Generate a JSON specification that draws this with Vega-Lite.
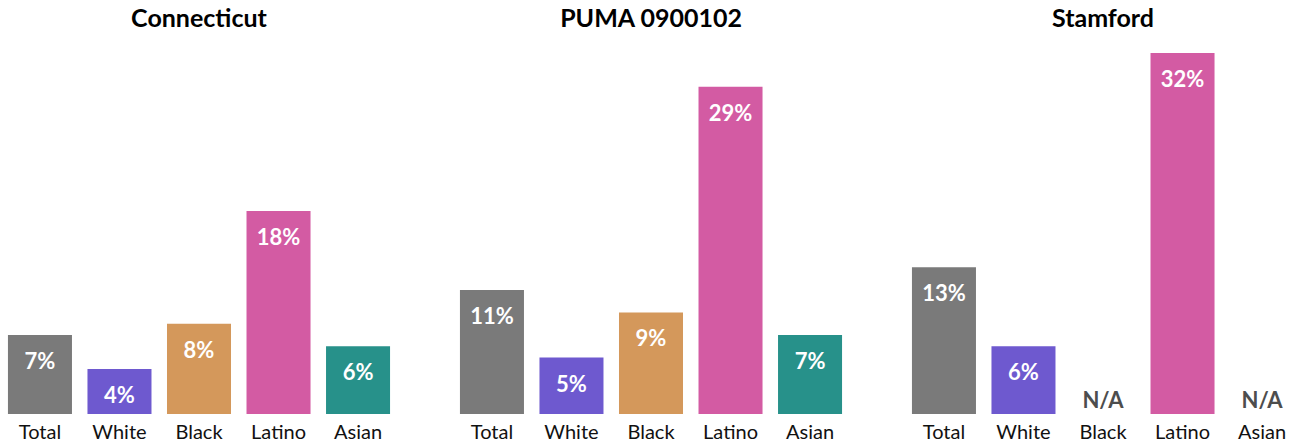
{
  "$schema": "https://vega.github.io/schema/vega-lite/v6.json",
  "padding": {"top": 7, "left": 0, "right": 0, "bottom": 0},
  "background": "white",
  "config": {
    "font": "Lato",
    "view": {"stroke": null},
    "facet": {"spacing": 54}
  },
  "data": {
    "values": [
      {"geo": "Connecticut", "group": "Total", "value": 0.07},
      {"geo": "Connecticut", "group": "White", "value": 0.04},
      {"geo": "Connecticut", "group": "Black", "value": 0.08},
      {"geo": "Connecticut", "group": "Latino", "value": 0.18},
      {"geo": "Connecticut", "group": "Asian", "value": 0.06},
      {"geo": "PUMA 0900102", "group": "Total", "value": 0.11},
      {"geo": "PUMA 0900102", "group": "White", "value": 0.05},
      {"geo": "PUMA 0900102", "group": "Black", "value": 0.09},
      {"geo": "PUMA 0900102", "group": "Latino", "value": 0.29},
      {"geo": "PUMA 0900102", "group": "Asian", "value": 0.07},
      {"geo": "Stamford", "group": "Total", "value": 0.13},
      {"geo": "Stamford", "group": "White", "value": 0.06},
      {"geo": "Stamford", "group": "Black", "value": null},
      {"geo": "Stamford", "group": "Latino", "value": 0.32},
      {"geo": "Stamford", "group": "Asian", "value": null}
    ]
  },
  "facet": {
    "column": {
      "field": "geo",
      "type": "nominal",
      "sort": ["Connecticut", "PUMA 0900102", "Stamford"],
      "title": null,
      "header": {
        "labelFontSize": 25,
        "labelFontWeight": "bold",
        "labelColor": "#000000",
        "labelPadding": 21
      }
    }
  },
  "spec": {
    "width": 398,
    "height": 361,
    "encoding": {
      "x": {
        "field": "group",
        "type": "nominal",
        "sort": ["Total", "White", "Black", "Latino", "Asian"],
        "title": null,
        "scale": {"paddingInner": 0.195, "paddingOuter": 0.1},
        "axis": {
          "labelAngle": 0,
          "domain": false,
          "ticks": false,
          "labelFontSize": 20,
          "labelColor": "#111111",
          "labelPadding": 8
        }
      }
    },
    "layer": [
      {
        "mark": {"type": "bar"},
        "encoding": {
          "y": {
            "field": "value",
            "type": "quantitative",
            "scale": {"domain": [0, 0.32], "nice": false},
            "axis": null
          },
          "color": {
            "field": "group",
            "type": "nominal",
            "scale": {
              "domain": ["Total", "White", "Black", "Latino", "Asian"],
              "range": ["#7a7a7a", "#6e59cf", "#d4985b", "#d35ba3", "#27918a"]
            },
            "legend": null
          }
        }
      },
      {
        "mark": {"type": "text", "color": "white", "fontWeight": "bold", "fontSize": 22, "baseline": "middle", "dy": 27},
        "encoding": {
          "y": {"field": "value", "type": "quantitative"},
          "text": {"field": "value", "type": "quantitative", "format": ".0%"}
        }
      },
      {
        "transform": [{"filter": "datum.value == null"}],
        "mark": {"type": "text", "color": "#4d4d4d", "fontWeight": "bold", "fontSize": 22, "baseline": "bottom", "dy": -1},
        "encoding": {
          "y": {"datum": 0},
          "text": {"value": "N/A"}
        }
      }
    ]
  }
}
